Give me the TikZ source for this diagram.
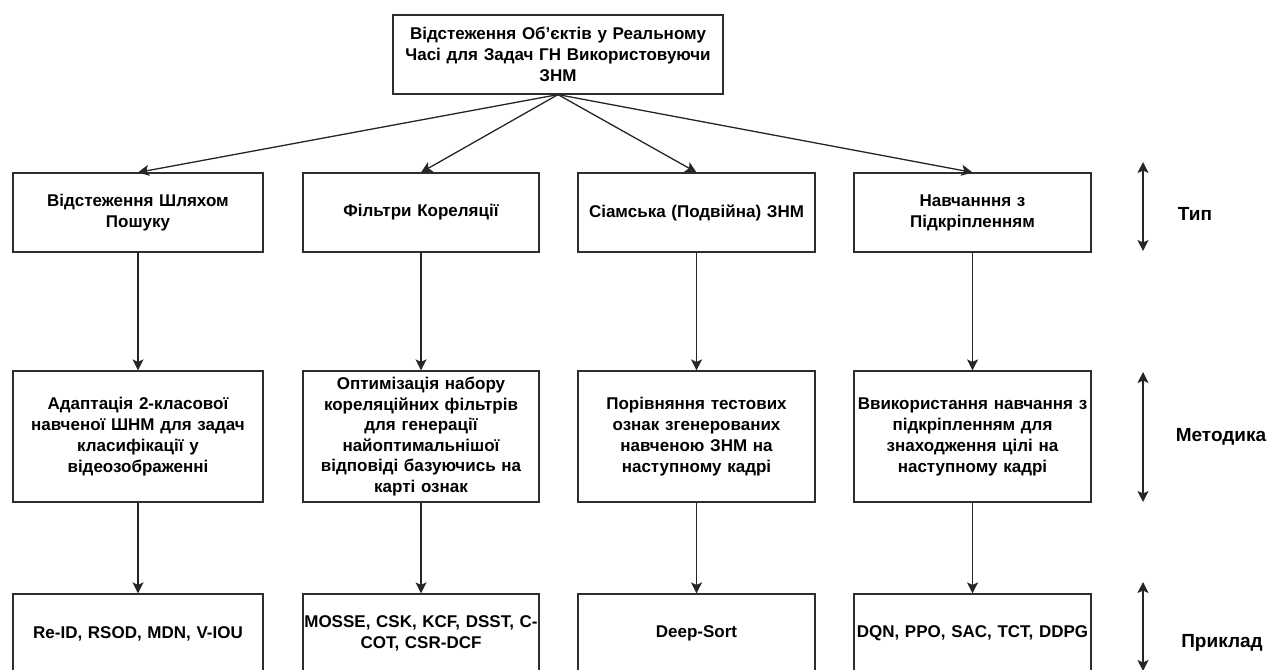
\documentclass[tikz,border=0pt]{standalone}
\usepackage{fontspec}
\setmainfont{Liberation Sans}
\usetikzlibrary{arrows.meta}
\begin{document}
\begin{tikzpicture}[x=1pt,y=-1pt,
  box/.style={draw=black!82, line width=1.2pt, fill=white, align=center,
    inner sep=0pt, minimum height=79pt,
    execute at begin node={\hyphenpenalty=10000},
    font=\bfseries\fontsize{17}{21}\selectfont},
  tall/.style={box, minimum height=131pt},
  side/.style={font=\bfseries\fontsize{19}{23}\selectfont, inner sep=0pt},
  link/.style={draw=black!85, line width=1.3pt,
    -{Stealth[length=11pt,width=11pt,inset=2.5pt]}},
  span/.style={draw=black!85, line width=1.4pt,
    {Stealth[length=11pt,width=11pt,inset=2.5pt]}-{Stealth[length=11pt,width=11pt,inset=2.5pt]}}
]
\clip (0,0) rectangle (1273,669);
\fill[white] (0,0) rectangle (1273,669);

% root
\node[box, minimum width=330pt, text width=328pt] (root) at (558,54.5)
  {Відстеження Об{\char"27}єктів у Реальному\\Часі для Задач ГН Використовуючи\\ЗНМ};

% tracker types
\node[box, minimum width=250pt, text width=246pt] (t1) at (138,212.5) {Відстеження Шляхом\\Пошуку};
\node[box, minimum width=236pt, text width=232pt] (t2) at (421,212.5) {Фільтри Кореляції};
\node[box, minimum width=237pt, text width=233pt] (t3) at (696.5,212.5) {Сіамська (Подвійна) ЗНМ};
\node[box, minimum width=237pt, text width=233pt] (t4) at (972.5,212.5) {Навчанння з\\Підкріпленням};

% methods
\node[tall, minimum width=250pt, text width=246pt] (m1) at (138,436.5)
  {Адаптація 2-класової\\навченої ШНМ для задач\\класифікації у\\відеозображенні};
\node[tall, minimum width=236pt, text width=236pt,
  font=\bfseries\fontsize{17}{20.6}\selectfont] (m2) at (421,436.5)
  {Оптимізація набору\\кореляційних фільтрів\\для генерації\\найоптимальнішої\\відповіді базуючись на\\карті ознак};
\node[tall, minimum width=237pt, text width=233pt] (m3) at (696.5,436.5)
  {Порівняння тестових\\ознак згенерованих\\навченою ЗНМ на\\наступному кадрі};
\node[tall, minimum width=237pt, text width=237pt] (m4) at (972.5,436.5)
  {Ввикористання навчання з\\підкріпленням для\\знаходження цілі на\\наступному кадрі};

% examples
\node[box, minimum width=250pt, text width=246pt] (e1) at (138,633.5) {Re-ID, RSOD, MDN, V-IOU};
\node[box, minimum width=236pt, text width=236pt] (e2) at (421,633.5) {MOSSE, CSK, KCF, DSST, C-\\COT, CSR-DCF};
\node[box, minimum width=237pt, text width=233pt] (e3) at (696.5,633.5) {Deep-Sort};
\node[box, minimum width=237pt, text width=237pt] (e4) at (972.5,633.5) {DQN, PPO, SAC, TCT, DDPG};

% connectors
\foreach \k in {1,2,3,4} {
  \draw[link] (root.south) -- (t\k.north);
  \draw[link] (t\k.south) -- (m\k.north);
  \draw[link] (m\k.south) -- (e\k.north);
}

% level markers
\coordinate (a1) at (1143,162);
\coordinate (b1) at (1143,251);
\coordinate (a2) at (1143,372);
\coordinate (b2) at (1143,502);
\coordinate (a3) at (1143,582);
\coordinate (b3) at (1143,671);
\draw[span] (a1) -- (b1);
\draw[span] (a2) -- (b2);
\draw[span] (a3) -- (b3);
\node[side] (l1) at (1195,214) {Тип};
\node[side] (l2) at (1221,437) {Методика};
\node[side] (l3) at (1222,643) {Приклад};
\end{tikzpicture}
\end{document}
